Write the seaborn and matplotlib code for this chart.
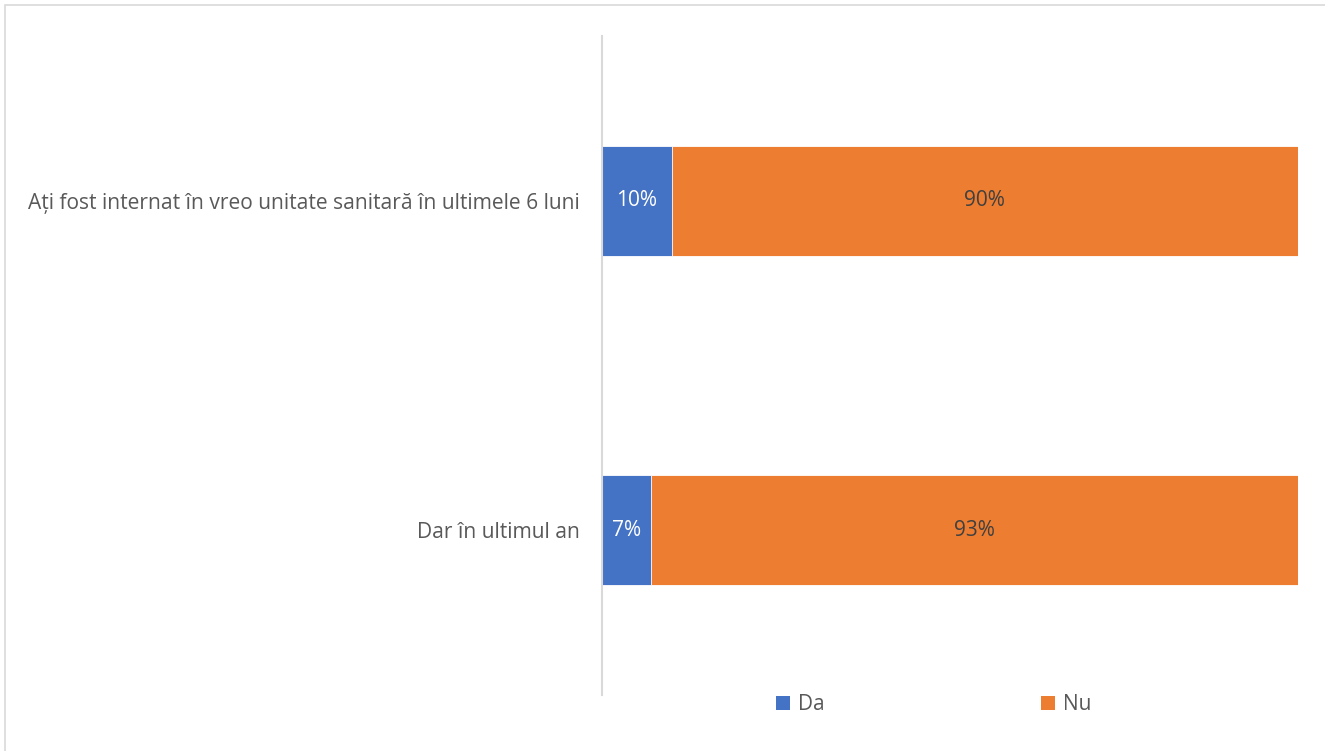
import pandas as pd
import matplotlib.pyplot as plt
import seaborn as sns
from matplotlib.patches import Patch, Rectangle

# Data
categories = ["Ați fost internat în vreo unitate sanitară în ultimele 6 luni",
              "Dar în ultimul an"]
da_values = [10, 7]
nu_values = [90, 93]
series_names = ["Da", "Nu"]
colors = ["#4472C4", "#ED7D31"]

data = pd.DataFrame({"Category": categories, "Da": da_values, "Nu": nu_values})
data["Total"] = data["Da"] + data["Nu"]

sns.set_style("white")
plt.rcParams['font.family'] = ['Open Sans', 'DejaVu Sans']

fig = plt.figure(figsize=(13.25, 7.51), dpi=100)
ax = fig.add_axes([602 / 1325, 1 - 695 / 751, (1298 - 602) / 1325, (695 - 36) / 751])

# stacked bars: total (orange) underneath, Da (blue) on top
sns.barplot(data=data, y="Category", x="Total", color=colors[1], orient="h", saturation=1,
            width=0.333, edgecolor="white", linewidth=0.6, ax=ax)
sns.barplot(data=data, y="Category", x="Da", color=colors[0], orient="h", saturation=1,
            width=0.333, edgecolor="white", linewidth=0.6, ax=ax)

# value labels
for i, row in data.iterrows():
    ax.text(row["Da"] / 2, i, f"{row['Da']}%", ha="center", va="center",
            color="white", fontsize=15)
    ax.text(row["Da"] + row["Nu"] / 2, i, f"{row['Nu']}%", ha="center", va="center",
            color="#404040", fontsize=15)

ax.set_xlim(0, 100)
ax.set_ylim(1.5, -0.5)
ax.set_xlabel("")
ax.set_ylabel("")
ax.set_xticks([])
ax.tick_params(axis="y", length=0, pad=16, labelsize=15.1, labelcolor="#595959")
for side in ["top", "right", "bottom"]:
    ax.spines[side].set_visible(False)
ax.spines["left"].set_color("#D9D9D9")
ax.spines["left"].set_linewidth(1.5)

# legend
handles = [Patch(facecolor=c, edgecolor="none") for c in colors]
fig.legend(handles, series_names, loc="center", bbox_to_anchor=(934 / 1325, 1 - 705 / 751),
           ncol=2, frameon=False, fontsize=15, labelcolor="#595959",
           handlelength=0.65, handleheight=0.65, handletextpad=0.4, columnspacing=10.4)

# outer chart border
fig.patches.append(Rectangle((5 / 1325, -0.05), 1.1, 1 - 5 / 751 + 0.05,
                             transform=fig.transFigure, fill=False,
                             edgecolor="#D9D9D9", linewidth=1.2))

fig.savefig("out.png", dpi=100)
